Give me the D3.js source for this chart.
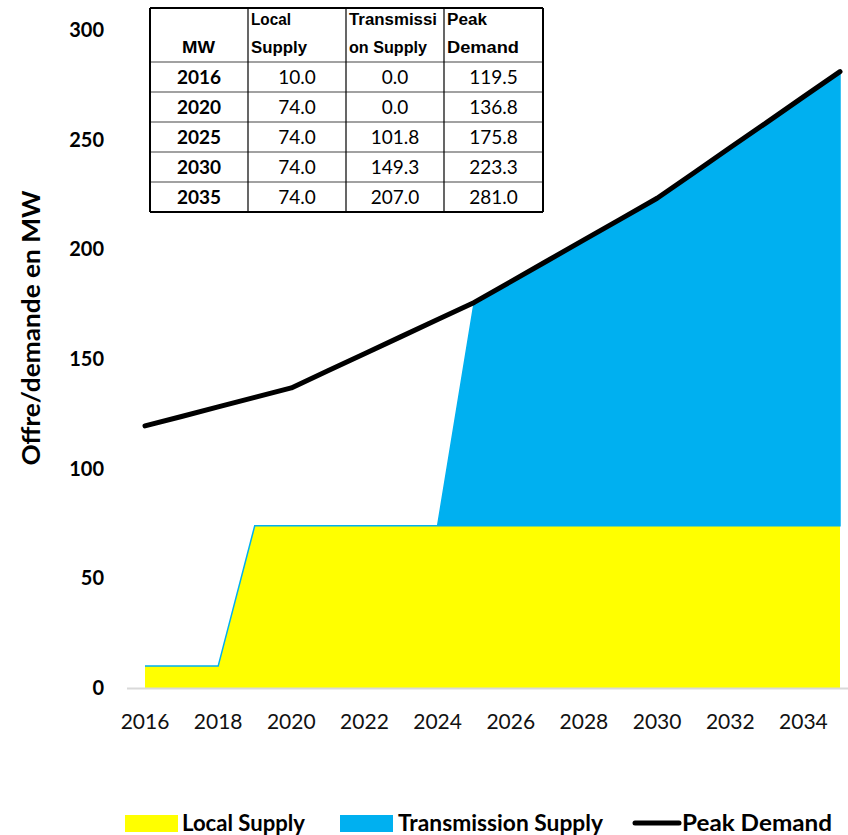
<!DOCTYPE html>
<html><head><meta charset="utf-8">
<script src="https://cdn.jsdelivr.net/npm/d3@7"></script>
<style>body{margin:0;background:#fff}svg{display:block}</style>
</head><body>
<script>
const years = [2016,2017,2018,2019,2020,2021,2022,2023,2024,2025,2026,2027,2028,2029,2030,2031,2032,2033,2034,2035];
const localSupply = [10,10,10,74,74,74,74,74,74,74,74,74,74,74,74,74,74,74,74,74];
const transmissionSupply = [0,0,0,0,0,0,0,0,0,101.8,111.3,120.8,130.3,139.8,149.3,160.8,172.4,183.9,195.5,207.0];
const peakDemand = [119.5,123.8,128.2,132.5,136.8,144.6,152.4,160.2,168.0,175.8,185.3,194.8,204.3,213.8,223.3,234.8,246.4,257.9,269.5,281.0];
const yTicks = [0,50,100,150,200,250,300];
const xTicks = [2016,2018,2020,2022,2024,2026,2028,2030,2032,2034];
const tableHeader = [["MW"],["Local","Supply"],["Transmissi","on Supply"],["Peak","Demand"]];
const tableYears = ["2016","2020","2025","2030","2035"];
const tableLocal = ["10.0","74.0","74.0","74.0","74.0"];
const tableTrans = ["0.0","0.0","101.8","149.3","207.0"];
const tablePeak = ["119.5","136.8","175.8","223.3","281.0"];
const legendItems = ["Local Supply","Transmission Supply","Peak Demand"];

const W=848,H=835;
const svg=d3.select("body").append("svg").attr("width",W).attr("height",H);
const font="Lato, 'Open Sans', sans-serif";
const x=d3.scaleLinear().domain([2016,2035]).range([145,840]);
const y=d3.scaleLinear().domain([0,300]).range([688,30]);

const data=years.map((yr,i)=>({year:yr,local:localSupply[i],trans:transmissionSupply[i],peak:peakDemand[i]}));

svg.append("path").datum(data)
  .attr("d",d3.area().x(d=>x(d.year)).y0(y(0)).y1(d=>y(d.local)))
  .attr("fill","#FFFF00");
svg.append("path").datum(data)
  .attr("d",d3.area().x(d=>x(d.year)).y0(d=>y(d.local)).y1(d=>y(d.local+d.trans)))
  .attr("fill","#00B0F0").attr("stroke","#00B0F0").attr("stroke-width",1.5);

svg.append("line").attr("x1",127).attr("x2",848).attr("y1",y(0)+0.5).attr("y2",y(0)+0.5)
  .attr("stroke","#d9d9d9").attr("stroke-width",2);

svg.append("path").datum(data)
  .attr("d",d3.line().x(d=>x(d.year)).y(d=>y(d.peak)))
  .attr("fill","none").attr("stroke","#000").attr("stroke-width",5).attr("stroke-linejoin","round").attr("stroke-linecap","round");

svg.append("g").selectAll("text").data(yTicks).join("text")
  .attr("x",104).attr("y",d=>y(d)).attr("dy","0.35em").attr("text-anchor","end")
  .attr("font-family",font).attr("font-weight","bold").attr("font-size",20).text(d=>d);
svg.append("g").selectAll("text").data(xTicks).join("text")
  .attr("x",d=>x(d)).attr("y",729).attr("text-anchor","middle")
  .attr("font-family",font).attr("font-size",21).attr("fill","#111").text(d=>d);
svg.append("text").attr("transform","translate(40,328) rotate(-90)").attr("text-anchor","middle")
  .attr("font-family",font).attr("font-weight","bold").attr("font-size",24).attr("textLength",275).attr("lengthAdjust","spacingAndGlyphs").text("Offre/demande en MW");

// table
const tx=[150,248,346,444,543], rowsY=[8,62,92,122,152,182,212];
const tg=svg.append("g");
tg.append("rect").attr("x",150).attr("y",8).attr("width",393).attr("height",204).attr("fill","#fff");
rowsY.forEach((ry,i)=>tg.append("line").attr("x1",150).attr("x2",543).attr("y1",ry).attr("y2",ry)
  .attr("stroke",(i===0||i===rowsY.length-1)?"#000":"#444").attr("stroke-width",(i===0||i===rowsY.length-1)?2:1.2));
tx.forEach((cx,i)=>tg.append("line").attr("x1",cx).attr("x2",cx).attr("y1",8).attr("y2",212)
  .attr("stroke","#000").attr("stroke-width",(i===0||i===tx.length-1)?2:1.2));
const tf="'Liberation Sans', Arial, sans-serif";
const hdrLen=[[33],[40,56],[88,78],[40,72]];
tableHeader.forEach((lines,c)=>{
  lines.forEach((l,k)=>{
    const t=tg.append("text").attr("y",(lines.length===1||k===1)?53:25)
      .attr("font-family",tf).attr("font-weight","bold").attr("font-size",16)
      .attr("textLength",hdrLen[c][k]).attr("lengthAdjust","spacingAndGlyphs").text(l);
    if(c===0) t.attr("x",182); else t.attr("x",tx[c]+3);
  });
});
[tableYears,tableLocal,tableTrans,tablePeak].forEach((col,c)=>{
  col.forEach((v,r)=>tg.append("text").attr("x",(tx[c]+tx[c+1])/2).attr("y",(rowsY[r+1]+rowsY[r+2])/2).attr("dy","0.36em")
    .attr("text-anchor","middle").attr("font-family",font).attr("font-weight",c===0?"bold":"normal").attr("font-size",19).text(v));
});

// legend
const lg=svg.append("g").attr("font-family",font).attr("font-weight","bold").attr("font-size",22).attr("lengthAdjust","spacingAndGlyphs");
lg.append("rect").attr("x",125).attr("y",815).attr("width",53).attr("height",17).attr("fill","#FFFF00");
lg.append("text").attr("x",182).attr("y",831).attr("textLength",123).attr("lengthAdjust","spacingAndGlyphs").text(legendItems[0]);
lg.append("rect").attr("x",340).attr("y",815).attr("width",53).attr("height",17).attr("fill","#00B0F0");
lg.append("text").attr("x",398).attr("y",831).attr("textLength",205).attr("lengthAdjust","spacingAndGlyphs").text(legendItems[1]);
lg.append("line").attr("x1",635).attr("x2",679).attr("y1",823).attr("y2",823).attr("stroke","#000").attr("stroke-width",5).attr("stroke-linecap","round");
lg.append("text").attr("x",682).attr("y",831).attr("textLength",150).attr("lengthAdjust","spacingAndGlyphs").text(legendItems[2]);
</script>
</body></html>
